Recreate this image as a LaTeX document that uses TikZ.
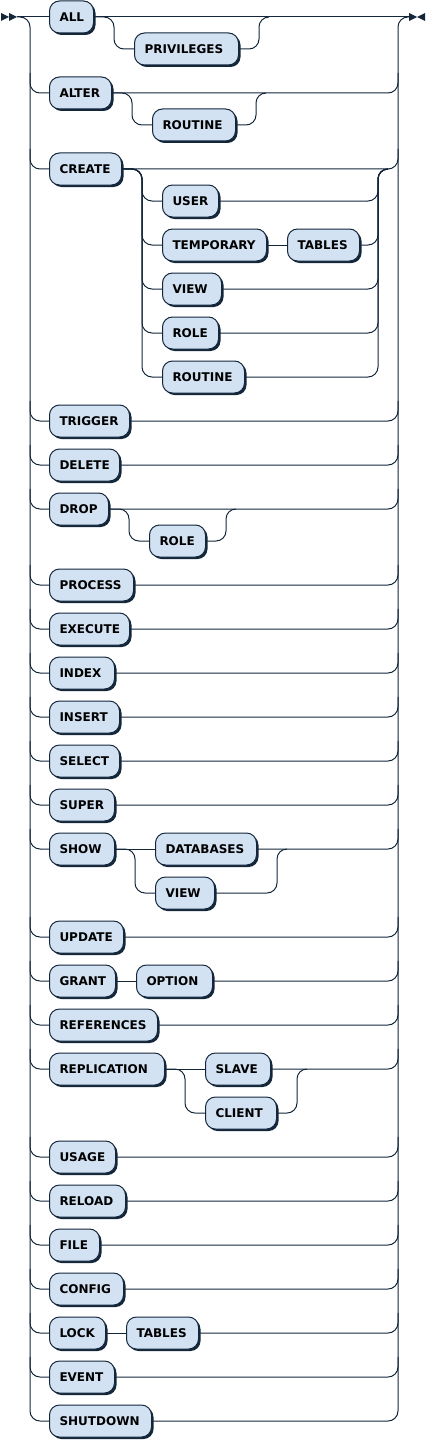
\documentclass[tikz,border=0pt]{standalone}
\usepackage{fontspec}
\setmainfont{DejaVu Sans}
\usetikzlibrary{calc,shadows}
\definecolor{dk}{RGB}{20,38,58}
\definecolor{lb}{RGB}{210,226,243}
\tikzset{
  term/.style={draw=dk, fill=lb, line width=0.75pt, rounded corners=7.5pt,
    minimum height=24pt, inner xsep=7.5pt, inner ysep=0pt, anchor=west,
    text=black, font=\bfseries\fontsize{9pt}{10pt}\selectfont,
    text height=6.56pt, text depth=0pt, align=left,
    text width=#1*0.75pt-15pt,
    drop shadow={shadow xshift=1.5pt, shadow yshift=-1.5pt, fill=dk, opacity=1}},
  rail/.style={draw=dk, line width=0.75pt, rounded corners=7.5pt},
}
\begin{document}
\begin{tikzpicture}[x=0.75pt,y=-0.75pt]
\useasboundingbox (0,0) rectangle (427,1441);
% start / end symbols
\fill[dk] (1,13) -- (9,17) -- (1,21) -- cycle;
\fill[dk] (9,13) -- (17,17) -- (9,21) -- cycle;
\fill[dk] (409,13) -- (417,17) -- (409,21) -- cycle;
\fill[dk] (425,13) -- (417,17) -- (425,21) -- cycle;

% main row nodes
\node[term=44] (all) at (49,17) {ALL};
\node[term=62] (alter) at (49,93) {ALTER};
\node[term=72] (create) at (49,169) {CREATE};
\node[term=59] (drop) at (49,509) {DROP};
\node[term=65] (show) at (49,849) {SHOW};
\node[term=66] (grant) at (49,981) {GRANT};
\node[term=115] (repl) at (49,1069) {REPLICATION};
\node[term=56] (lock) at (49,1333) {LOCK};
\foreach \nm/\yy/\ww in {TRIGGER/421/80, DELETE/465/70, PROCESS/585/84, EXECUTE/629/80,
  INDEX/673/65, INSERT/717/70, SELECT/761/70, SUPER/805/65, UPDATE/937/74,
  REFERENCES/1025/108, USAGE/1157/66, RELOAD/1201/76, FILE/1245/50, CONFIG/1289/74,
  EVENT/1377/65, SHUTDOWN/1421/102}{
  \node[term=\ww] (r\nm) at (49,\yy) {\nm};
}

% sub nodes
\node[term=104] (priv) at ($(all.east)+(40,32)$) {PRIVILEGES};
\node[term=83] (altrout) at ($(alter.east)+(40,32)$) {ROUTINE};
\node[term=56] (droprole) at ($(drop.east)+(40,32)$) {ROLE};
\node[term=56] (cuser) at ($(create.east)+(40,32)$) {USER};
\node[term=104] (ctemp) at ($(create.east)+(40,76)$) {TEMPORARY};
\node[term=72] (ctables) at ($(ctemp.east)+(20,0)$) {TABLES};
\node[term=59] (cview) at ($(create.east)+(40,120)$) {VIEW};
\node[term=56] (crole) at ($(create.east)+(40,164)$) {ROLE};
\node[term=82] (crout) at ($(create.east)+(40,208)$) {ROUTINE};
\node[term=101] (sdb) at ($(show.east)+(40,0)$) {DATABASES};
\node[term=59] (sview) at ($(show.east)+(40,44)$) {VIEW};
\node[term=76] (option) at ($(grant.east)+(20,0)$) {OPTION};
\node[term=65] (slave) at ($(repl.east)+(40,0)$) {SLAVE};
\node[term=71] (client) at ($(repl.east)+(40,44)$) {CLIENT};
\node[term=72] (ltables) at ($(lock.east)+(20,0)$) {TABLES};

% rails
\draw[rail] (17,17) -| (30,1421) -- (rSHUTDOWN.west);
\draw[rail] (rSHUTDOWN.east) -| (398,17) -- (409,17);
\draw[rail] (17,17) -- (all.west);
\draw[rail] (all.east) -- (409,17);

% left connections
\foreach \n in {alter,create,drop,show,grant,repl,lock,rTRIGGER,rDELETE,rPROCESS,
  rEXECUTE,rINDEX,rINSERT,rSELECT,rSUPER,rUPDATE,rREFERENCES,rUSAGE,rRELOAD,rFILE,
  rCONFIG,rEVENT}{
  \draw[rail] ($(30,0)!(\n.west)!(30,10)+(0,-20)$) |- (\n.west);
}
% right connections
\foreach \n in {alter,create,drop,sdb,option,slave,ltables,rTRIGGER,rDELETE,rPROCESS,
  rEXECUTE,rINDEX,rINSERT,rSELECT,rSUPER,rUPDATE,rREFERENCES,rUSAGE,rRELOAD,rFILE,
  rCONFIG,rEVENT}{
  \draw[rail] (\n.east) -| ($(398,0)!(\n.east)!(398,10)+(0,-20)$);
}

% optional branches
\draw[rail] (all.east) -| ($(all.east)+(20,32)$) -- (priv.west);
\draw[rail] (priv.east) -| ($(priv.east)+(20,-32)$) -- ++(10,0);
\draw[rail] (alter.east) -| ($(alter.east)+(20,32)$) -- (altrout.west);
\draw[rail] (altrout.east) -| ($(altrout.east)+(20,-32)$) -- ++(10,0);
\draw[rail] (drop.east) -| ($(drop.east)+(20,32)$) -- (droprole.west);
\draw[rail] (droprole.east) -| ($(droprole.east)+(20,-32)$) -- ++(10,0);

% CREATE group
\coordinate (cl) at ($(create.east)+(20,0)$);
\coordinate (cr) at ($(ctables.east)+(18,0)$);
\foreach \n in {cuser,ctemp,cview,crole,crout}{
  \draw[rail] (create.east) -| (cl |- \n.west) -- (\n.west);
}
\draw[rail] (ctemp.east) -- (ctables.west);
\foreach \n in {cuser,ctables,cview,crole,crout}{
  \draw[rail] (\n.east) -| (cr |- create.east) -- ++(10,0);
}

% SHOW group
\draw[rail] (show.east) -- (sdb.west);
\draw[rail] (show.east) -| ($(show.east)+(20,44)$) -- (sview.west);
\coordinate (sr) at ($(sdb.east)+(20,0)$);
\draw[rail] (sview.east) -| (sr) -- ++(10,0);

% GRANT OPTION, LOCK TABLES
\draw[rail] (grant.east) -- (option.west);
\draw[rail] (lock.east) -- (ltables.west);

% REPLICATION group
\draw[rail] (repl.east) -- (slave.west);
\draw[rail] (repl.east) -| ($(repl.east)+(20,44)$) -- (client.west);
\coordinate (rr) at ($(client.east)+(20,0)$);
\draw[rail] (client.east) -| (rr |- slave.east) -- ++(10,0);
\end{tikzpicture}
\end{document}
